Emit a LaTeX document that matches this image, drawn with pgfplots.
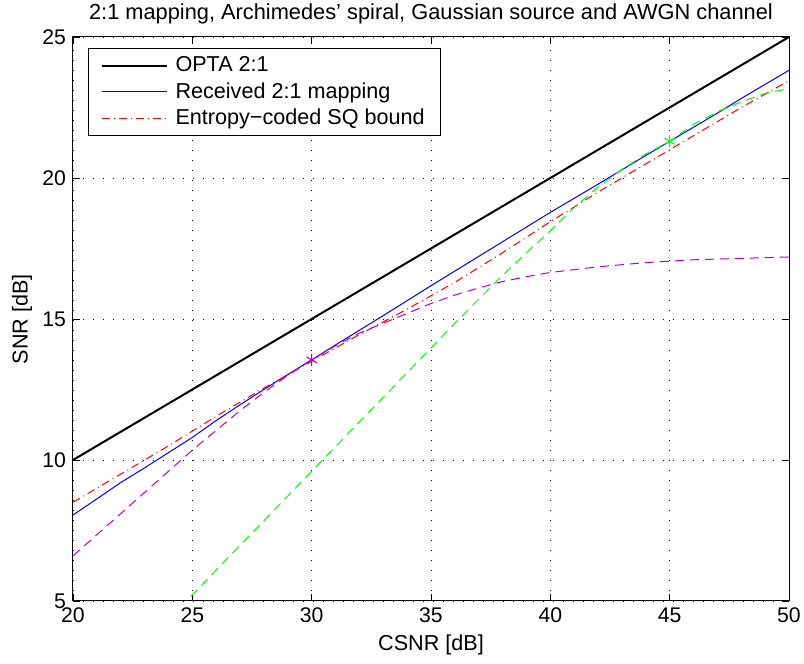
\documentclass[border=0pt]{standalone}
\usepackage{fontspec}
\setmainfont{Liberation Sans}
\usepackage{pgfplots}
\pgfplotsset{compat=1.18}

\definecolor{mgreen}{rgb}{0,1,0}
\definecolor{mmag}{rgb}{0.75,0,0.75}

\begin{document}
\begin{tikzpicture}
  \begin{axis}[
    scale only axis,
    width=358pt, height=282pt,
    xmin=20, xmax=50, ymin=5, ymax=25,
    xtick={20,25,...,50}, ytick={5,10,...,25},
    /pgf/number format/assume math mode=true,
    tick label style={font=\fontsize{10.6}{12}\selectfont},
    label style={font=\fontsize{10.8}{12}\selectfont},
    title style={font=\fontsize{10.9}{12}\selectfont, at={(0.5,1)}, anchor=base, yshift=2.5pt},
    title={2:1 mapping, Archimedes’ spiral, Gaussian source and AWGN channel},
    xlabel={CSNR [dB]}, ylabel={SNR [dB]},
    xlabel style={at={(axis description cs:0.5,-0.078)}, anchor=center},
    ylabel style={at={(axis description cs:-0.0712,0.5)}, anchor=center, rotate=0},
    tick align=inside, major tick length=3.5pt,
    axis line style={line width=0.5pt},
    every tick/.style={black, line width=0.4pt},
    grid=major,
    grid style={black, line width=0.4pt, dash pattern=on 0.5pt off 4.5pt},
    legend style={at={(0.021,0.9805)}, anchor=north west, draw=black, line width=0.5pt,
      font=\fontsize{10.8}{12.5}\selectfont, inner xsep=6pt, inner ysep=2pt, row sep=0pt,
      /tikz/every odd column/.append style={column sep=2pt}},
    legend cell align=left,
    legend image code/.code={\draw[#1] (0pt,0pt) -- (32.5pt,0pt);},
  ]
  % OPTA
  \addplot[black, line width=1pt] coordinates {(20,10) (50,25)};
  % received 2:1 mapping
  \addplot[blue, line width=0.5pt] coordinates {
    (20,8.05) (21,8.62) (22,9.2) (23,9.72) (24,10.26) (25,10.8) (26,11.4)
    (27,11.96) (28,12.5) (29,13.03) (30,13.55) (31,14.08) (32,14.6) (33,15.12)
    (34,15.65) (35,16.18) (36,16.7) (37,17.22) (38,17.74) (39,18.26) (40,18.78)
    (41,19.28) (42,19.78) (43,20.29) (44,20.8) (45,21.3) (46,21.8) (47,22.3)
    (48,22.82) (49,23.32) (50,23.82)};
  % entropy-coded SQ bound
  \addplot[red, line width=0.5pt, dash pattern=on 4pt off 2pt on 0.5pt off 2pt] coordinates {
    (20,8.5) (22,9.5) (24,10.5) (26,11.55) (28,12.55) (30,13.5) (32,14.45)
    (34,15.35) (36,16.3) (38,17.35) (40,18.45) (42,19.5) (44,20.5) (46,21.5)
    (48,22.5) (50,23.45)};
  % magenta curve
  \addplot[mmag, line width=0.5pt, dash pattern=on 4.5pt off 3pt, forget plot] coordinates {
    (20,6.6) (21,7.35) (22,8.1) (23,8.85) (24,9.6) (25,10.35) (26,11.05)
    (27,11.75) (28,12.4) (29,13.0) (30,13.55) (31,14.05) (32,14.5) (33,14.85)
    (34,15.2) (35,15.55) (36,15.85) (37,16.1) (38,16.33) (39,16.5) (40,16.65)
    (42,16.85) (44,17.0) (45,17.05) (46,17.1) (48,17.15) (50,17.2)};
  % green curve
  \addplot[mgreen, line width=0.5pt, dash pattern=on 4.5pt off 3pt, forget plot] coordinates {
    (24.5,4.78) (26,6.1) (28,7.85) (30,9.6) (32,11.35) (34,13.1) (36,14.85)
    (37,15.7) (38,16.55) (39,17.35) (40,18.13) (41,18.95) (42,19.68) (43,20.3)
    (44,20.85) (45,21.3) (46,21.9) (47,22.35) (48,22.7) (49,23.0) (50,23.17)};
  % operating points
  \addplot[mmag, only marks, mark=asterisk, mark size=3pt, line width=0.5pt, forget plot]
    coordinates {(30,13.55)};
  \addplot[mgreen, only marks, mark=asterisk, mark size=3pt, line width=0.5pt, forget plot]
    coordinates {(45,21.3)};
  \legend{OPTA 2:1, Received 2:1 mapping, Entropy−coded SQ bound}
  \end{axis}
  \pgfresetboundingbox
  \path[use as bounding box] (-36.5pt,-31.5pt) rectangle (365.5pt,300.5pt);
\end{tikzpicture}
\end{document}
